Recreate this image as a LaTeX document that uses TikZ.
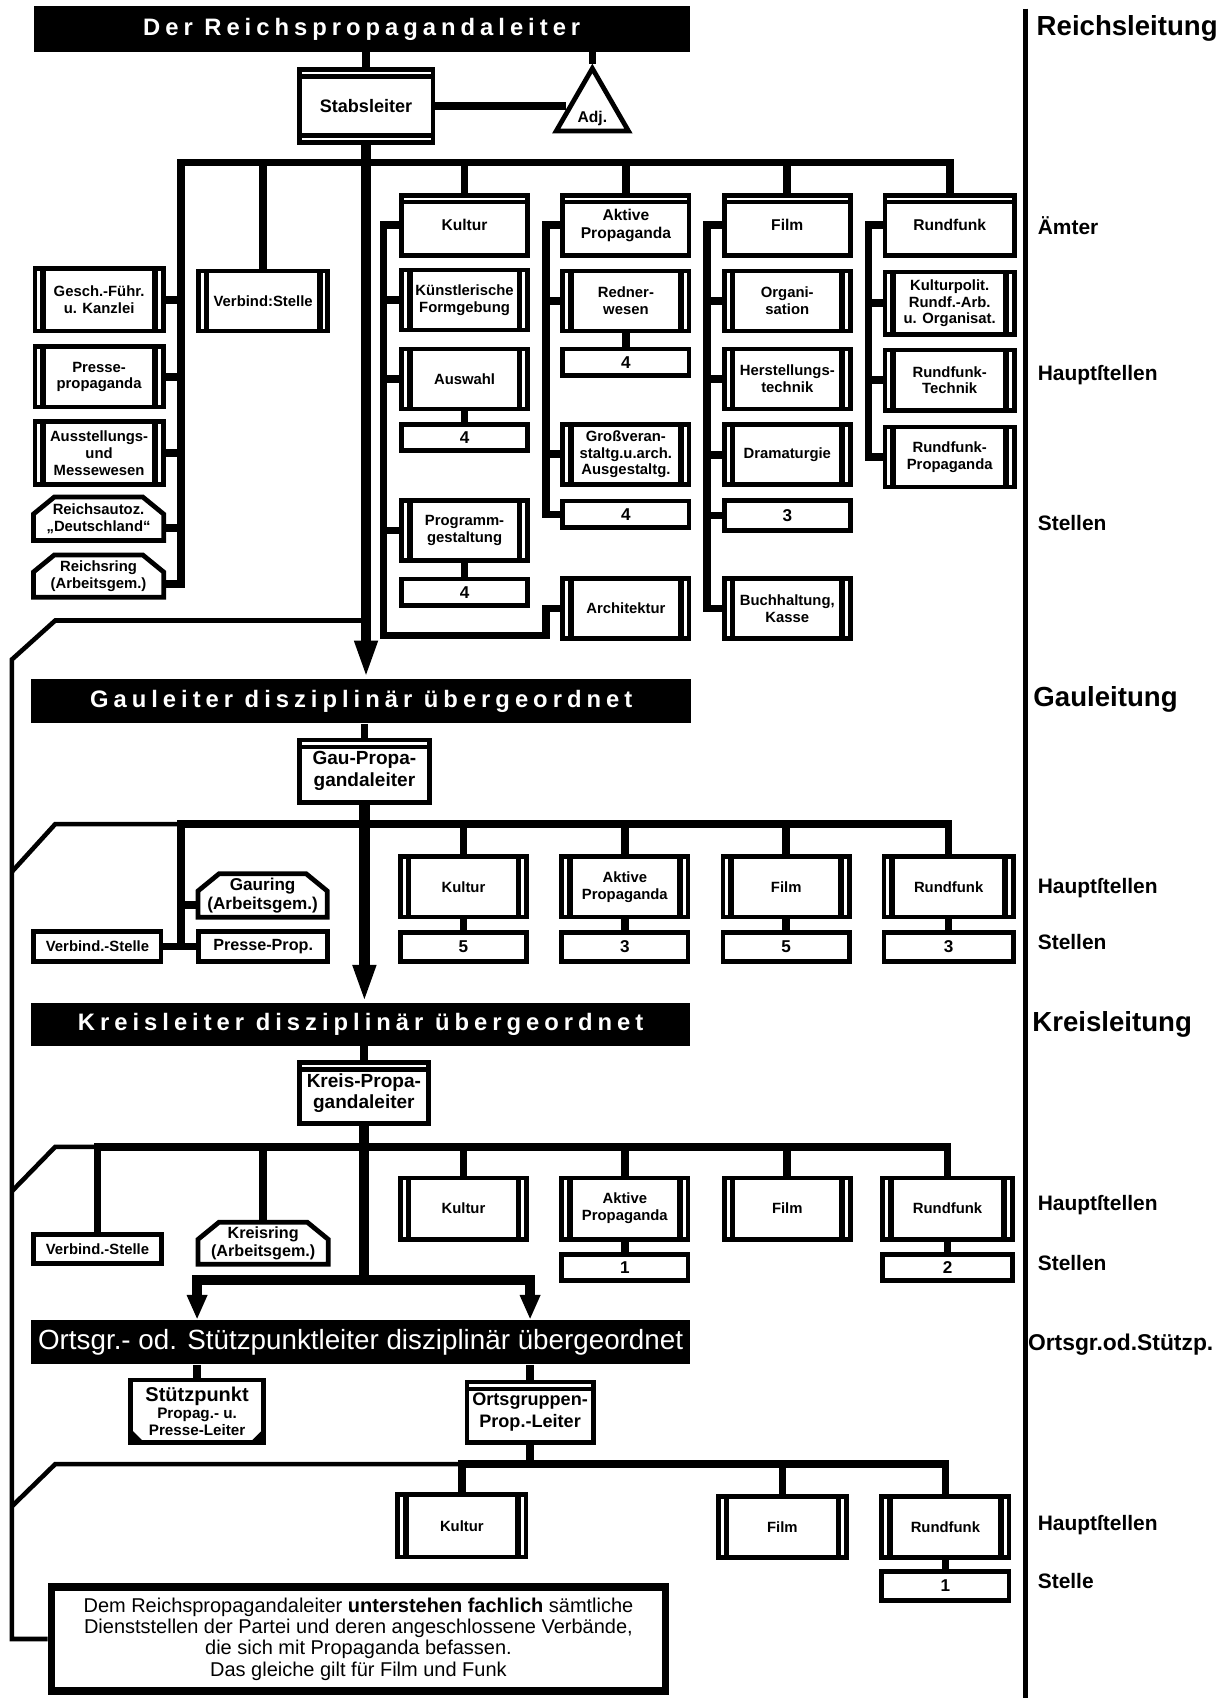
\documentclass[tikz,border=0pt]{standalone}
\usepackage{fontspec}
\setmainfont{Liberation Sans}
\newfontfamily\barface{Liberation Sans}[LetterSpace=21]
\usetikzlibrary{arrows.meta,shapes.geometric}

\newcommand\bxfont{\bfseries\fontsize{7.8}{8.8}\selectfont}
\newcommand\amtfont{\bfseries\fontsize{8.2}{9.2}\selectfont}
\newcommand\numfont{\bfseries\fontsize{9}{10}\selectfont}
\newcommand\ringfont{\bfseries\fontsize{9}{10}\selectfont}
\newcommand\leitfont{\bfseries\fontsize{10}{11.3}\selectfont}
\newcommand\barfont{\barface\bfseries\fontsize{12.5}{14}\selectfont}
\newcommand\bigfont{\bfseries\fontsize{14.5}{16}\selectfont}
\newcommand\smfont{\bfseries\fontsize{11}{13}\selectfont}

\tikzset{
  box/.style={draw,line width=2.5pt,inner sep=0pt,align=center,font=\bxfont,
    minimum width=23.3mm,minimum height=11.1mm},
  hst/.style={box,path picture={
      \draw[line width=3pt] ([xshift=4.3pt]path picture bounding box.north west)
        -- ([xshift=4.3pt]path picture bounding box.south west);
      \draw[line width=3pt] ([xshift=-4.3pt]path picture bounding box.north east)
        -- ([xshift=-4.3pt]path picture bounding box.south east);}},
  amt/.style={box,font=\amtfont,path picture={
      \draw[line width=2.3pt] ([yshift=-3.7pt]path picture bounding box.north west)
        -- ([yshift=-3.7pt]path picture bounding box.north east);}},
  leiter/.style={box,font=\leitfont,path picture={
      \draw[line width=2.3pt] ([yshift=-3.7pt]path picture bounding box.north west)
        -- ([yshift=-3.7pt]path picture bounding box.north east);
      \draw[line width=2.3pt] ([yshift=3.7pt]path picture bounding box.south west)
        -- ([yshift=3.7pt]path picture bounding box.south east);}},
  stp/.style={box,path picture={
      \fill ([yshift=7pt]path picture bounding box.south west) -- (path picture bounding box.south west)
        -- ([xshift=7pt]path picture bounding box.south west) -- cycle;
      \fill ([yshift=7pt]path picture bounding box.south east) -- (path picture bounding box.south east)
        -- ([xshift=-7pt]path picture bounding box.south east) -- cycle;}},
  num/.style={box,font=\numfont,minimum height=4.9mm},
  plain/.style={box,minimum height=5.5mm},
  ring/.style={inner sep=0pt,align=center,font=\ringfont,minimum width=23.7mm},
  ringline/.style={line width=2.5pt},
  adjtri/.style={draw,line width=2.5pt,regular polygon,regular polygon sides=3,
    minimum size=12.9mm,inner sep=0pt,text height=1.3em,text depth=0pt,font=\amtfont},
  bar/.style={fill=black,text=white,inner sep=0pt,font=\barfont,
    minimum width=121.8mm,minimum height=8.2mm},
  bus/.style={line width=4pt},
  mainline/.style={line width=5.5pt},
  thinline/.style={line width=2.4pt},
  lab/.style={anchor=west,inner sep=0pt,font=\smfont}
}

\begin{document}
\begin{tikzpicture}[x=0.2mm,y=-0.2mm]
  \useasboundingbox[fill=white] (0,0) rectangle (1128,1568);

  % Reichsleitung
  \node[bar,minimum width=121.2mm,minimum height=8.4mm] (rbar) at (334,27) {Der Reichspropagandaleiter};
  \node[leiter,minimum width=24.7mm,minimum height=13.5mm,font=\bfseries\fontsize{9.5}{11}\selectfont] (stab) at (338,98) {Stabsleiter};
  \node[adjtri] (adj) at (547,101.7) {Adj.};

  \node[hst,minimum width=23.7mm,minimum height=11.5mm] (gfk) at (91.5,277) {Gesch.-Führ.\\u. Kanzlei};
  \node[hst,minimum width=23.7mm] (pp) at (91.5,348) {Presse-\\propaganda};
  \node[hst,minimum width=23.7mm,minimum height=11.7mm] (aus) at (91.5,418.5) {Ausstellungs-\\und\\Messewesen};
  \node[ring,font=\bxfont,minimum width=23.9mm,minimum height=7.9mm] (rad) at (91,479) {Reichsautoz.\\„Deutschland“};
  \node[ring,font=\bxfont,minimum width=23.9mm,minimum height=7.7mm] (rr) at (91,532) {Reichsring\\(Arbeitsgem.)};
  \node[hst,minimum width=23.9mm] (vs) at (243,278) {Verbind:Stelle};

  \node[amt] (aku) at (429,208) {Kultur};
  \node[amt] (aap) at (578,208) {Aktive\\Propaganda};
  \node[amt] (afi) at (727,208) {Film};
  \node[amt,minimum width=23.9mm] (arfk) at (877,208) {Rundfunk};

  \node[hst] (kfg) at (429,277) {Künstlerische\\Formgebung};
  \node[hst] (kaus) at (429,350) {Auswahl};
  \node[num] (kn1) at (429,404) {4};
  \node[hst] (kprog) at (429,490) {Programm-\\gestaltung};
  \node[num] (kn2) at (429,547) {4};

  \node[hst] (ared) at (578,278) {Redner-\\wesen};
  \node[num] (an1) at (578,334.5) {4};
  \node[hst] (agv) at (578,419.5) {Großveran-\\staltg.u.arch.\\Ausgestaltg.};
  \node[num] (an2) at (578,475) {4};
  \node[hst] (arch) at (578,562) {Architektur};

  \node[hst] (forg) at (727,278) {Organi-\\sation};
  \node[hst] (fher) at (727,350) {Herstellungs-\\technik};
  \node[hst] (fdra) at (727,420) {Dramaturgie};
  \node[num,minimum height=5.5mm] (fn3) at (727,476) {3};
  \node[hst] (fbuch) at (727,562) {Buchhaltung,\\Kasse};

  \node[hst,minimum width=23.9mm,minimum height=11.5mm] (rkp) at (877,280) {Kulturpolit.\\Rundf.-Arb.\\u. Organisat.};
  \node[hst,minimum width=23.9mm] (rtech) at (877,351) {Rundfunk-\\Technik};
  \node[hst,minimum width=23.9mm] (rprop) at (877,422) {Rundfunk-\\Propaganda};

  \draw[bus] (stab.north |- rbar.south) -- (stab.north);
  \draw[bus] (adj.corner 1 |- rbar.south) -- (adj.corner 1);
  \draw[bus] (stab.east) -- (stab.east -| adj.west);
  \coordinate (rbl) at (167,150);
  \draw[bus] ([yshift=-4pt]rr.east) -| (rbl) -| (arfk.north);
  \foreach \n in {gfk,pp,aus} \draw[bus] (\n.east) -- (\n.east -| rbl);
  \draw[bus] ([yshift=-5pt]rad.east) -- ([yshift=-5pt]rad.east -| rbl);
  \draw[bus] (vs.north) -- (vs.north |- rbl);
  \foreach \n in {aku,aap,afi} \draw[bus] (\n.north) -- (\n.north |- rbl);

  \coordinate (kb) at (354,587);
  \coordinate (kc) at (504,587);
  \draw[bus] (aku.west) -| (kb) -- (kc) |- (arch.west);
  \foreach \n in {kfg,kaus,kprog} \draw[bus] (\n.west) -- (\n.west -| kb);
  \draw[bus] (kaus.south) -- (kn1.north);
  \draw[bus] (kprog.south) -- (kn2.north);

  \coordinate (ab) at (504,0);
  \draw[bus] (aap.west) -| (an2.west -| ab) -- (an2.west);
  \foreach \n in {ared,agv} \draw[bus] (\n.west) -- (\n.west -| ab);
  \draw[bus] (ared.south) -- (an1.north);

  \coordinate (fb) at (653,0);
  \draw[bus] (afi.west) -| (fbuch.west -| fb) -- (fbuch.west);
  \foreach \n in {forg,fher,fdra,fn3} \draw[bus] (\n.west) -- (\n.west -| fb);

  \coordinate (rb) at (802,0);
  \draw[bus] (arfk.west) -| (rprop.west -| rb) -- (rprop.west);
  \foreach \n in {rkp,rtech} \draw[bus] (\n.west) -- (\n.west -| rb);

  % Gauleitung
  \node[bar] (gbar) at (333.5,647.5) {Gauleiter disziplinär übergeordnet};
  \node[amt,minimum width=24.1mm,minimum height=11.5mm,font=\leitfont] (gpl) at (336.5,712) {Gau-Propa-\\gandaleiter};
  \node[plain,minimum width=23.5mm] (gvs) at (90,874) {Verbind.-Stelle};
  \node[plain,minimum width=23.9mm,font=\bfseries\fontsize{8.5}{9.5}\selectfont] (gpp) at (243,874) {Presse-Prop.};
  \node[ring,minimum height=7.9mm] (gring) at (242.5,827) {Gauring\\(Arbeitsgem.)};
  \node[hst] (gku) at (428,819) {Kultur};
  \node[hst] (gap) at (577,819) {Aktive\\Propaganda};
  \node[hst] (gfi) at (726,819) {Film};
  \node[hst,minimum width=23.9mm] (grf) at (876,819) {Rundfunk};
  \node[num,minimum height=5.3mm] (gn1) at (428,874.5) {5};
  \node[num,minimum height=5.3mm] (gn2) at (577,874.5) {3};
  \node[num,minimum height=5.3mm] (gn3) at (726,874.5) {5};
  \node[num,minimum height=5.3mm,minimum width=23.9mm] (gn4) at (876,874.5) {3};

  \draw[mainline,-{Triangle[length=20pt,width=11pt]}] (stab.south) -- (stab.south |- gbar.north);
  \draw[bus] (gpl.north |- gbar.south) -- (gpl.north);
  \coordinate (gbl) at (167,761);
  \draw[bus] (gvs.east) -| (gbl) -| (grf.north);
  \draw[bus] ([yshift=-5pt]gring.west) -- ([yshift=-5pt]gring.west -| gbl);
  \draw[bus] (gpp.west) -- (gpp.west -| gbl);
  \foreach \n in {gku,gap,gfi} \draw[bus] (\n.north) -- (\n.north |- gbl);
  \foreach \a/\b in {gku/gn1,gap/gn2,gfi/gn3,grf/gn4} \draw[bus] (\a.south) -- (\b.north);

  % Kreisleitung
  \node[bar,minimum height=7.8mm] (kbar) at (333,946) {Kreisleiter disziplinär übergeordnet};
  \node[amt,minimum width=23.9mm,minimum height=11.3mm,font=\leitfont] (kpl) at (336,1009.5) {Kreis-Propa-\\gandaleiter};
  \node[plain,minimum width=23.7mm,minimum height=5.3mm] (kvs) at (90,1153.5) {Verbind.-Stelle};
  \node[ring,minimum width=23.9mm,minimum height=7.6mm,font=\bfseries\fontsize{8.5}{9.2}\selectfont] (kring) at (243,1148) {Kreisring\\(Arbeitsgem.)};
  \node[hst,minimum height=11.3mm] (kku) at (428,1116) {Kultur};
  \node[hst,minimum height=11.3mm] (kap) at (577,1116) {Aktive\\Propaganda};
  \node[hst,minimum height=11.3mm] (kfi) at (727,1116) {Film};
  \node[hst,minimum height=11.3mm,minimum width=23.9mm] (krf) at (875,1116) {Rundfunk};
  \node[num] (kn1x) at (577,1170.5) {1};
  \node[num,minimum width=23.9mm] (kn2x) at (875,1170.5) {2};

  \draw[mainline,-{Triangle[length=20pt,width=11pt]}] (gpl.south) -- (gpl.south |- kbar.north);
  \draw[bus] (kpl.north |- kbar.south) -- (kpl.north);
  \coordinate (kbl) at (90,1059);
  \draw[bus] (kvs.north) -- (kvs.north |- kbl) -| (krf.north);
  \draw[bus] (kring.north) -- (kring.north |- kbl);
  \foreach \n in {kku,kap,kfi} \draw[bus] (\n.north) -- (\n.north |- kbl);
  \draw[bus] (kap.south) -- (kn1x.north);
  \draw[bus] (krf.south) -- (kn2x.north);

  % Ortsgruppe / Stuetzpunkt
  \node[bar,font=\fontsize{14.6}{16}\selectfont] (obar) at (333,1239.5) {Ortsgr.- od. Stützpunktleiter disziplinär übergeordnet};
  \node[stp,minimum width=24.5mm,minimum height=11.5mm,font=\bfseries\fontsize{8}{9}\selectfont] (osp) at (182,1303) {{\fontsize{10.5}{11}\selectfont Stützpunkt}\\Propag.- u.\\Presse-Leiter};
  \node[amt,font=\bfseries\fontsize{9.5}{11.3}\selectfont] (ogl) at (489.5,1304) {Ortsgruppen-\\Prop.-Leiter};
  \node[hst,minimum width=23.7mm,minimum height=11.5mm] (oku) at (426.5,1409) {Kultur};
  \node[hst,minimum width=23.7mm,minimum height=11.3mm] (ofi) at (722.5,1410) {Film};
  \node[hst,minimum width=23.5mm,minimum height=11.3mm] (orf) at (873,1410) {Rundfunk};
  \node[num,minimum width=23.5mm,minimum height=5.3mm] (on1) at (873,1464.5) {1};

  \coordinate (kfork) at (336,1182);
  \draw[mainline] (kpl.south) -- (kfork);
  \draw[mainline,-{Triangle[length=13pt,width=10pt]}] (kfork) -| (osp.north |- obar.north);
  \draw[mainline,-{Triangle[length=13pt,width=10pt]}] (kfork) -| (ogl.north |- obar.north);
  \draw[bus] (osp.north |- obar.south) -- (osp.north);
  \draw[bus] (ogl.north |- obar.south) -- (ogl.north);
  \coordinate (obl) at (430,1352);
  \draw[bus] (ogl.south) -- (ogl.south |- obl);
  \draw[bus] (oku.north) -- (oku.north |- obl) -| (orf.north);
  \draw[bus] (ofi.north) -- (ofi.north |- obl);
  \draw[bus] (orf.south) -- (on1.north);

  \node[draw,line width=4pt,inner sep=0pt,align=center,minimum width=113.4mm,minimum height=19.2mm,
    font=\fontsize{10.5}{11.2}\selectfont] (note) at (331,1513.5)
    {Dem Reichspropagandaleiter \textbf{unterstehen fachlich} sämtliche\\
     Dienststellen der Partei und deren angeschlossene Verbände,\\
     die sich mit Propaganda befassen.\\
     Das gleiche gilt für Film und Funk};

  % chamfered ring boxes
  \foreach \n in {rad,rr,gring,kring}
    \draw[ringline] ([yshift=-9pt]\n.north west) -- ([xshift=11pt]\n.north west)
      -- ([xshift=-11pt]\n.north east) -- ([yshift=-9pt]\n.north east)
      -- (\n.south east) -- (\n.south west) -- cycle;

  % thin return line
  \coordinate (t0) at (51,573);
  \coordinate (t1) at (11,609);
  \draw[thinline] (stab.south |- t0) -- (t0) -- (t1) |- (note.west);
  \coordinate (g0) at (51,761);
  \coordinate (g1) at (11,805);
  \draw[thinline] (gbl) -- (g0) -- (g1);
  \coordinate (k0) at (51,1059);
  \coordinate (k1) at (11,1100);
  \draw[thinline] (kvs.north |- kbl) -- (k0) -- (k1);
  \coordinate (o0) at (51,1352);
  \coordinate (o1) at (11,1391);
  \draw[thinline] (oku.north |- obl) -- (o0) -- (o1);

  % level column
  \draw[line width=2.6pt] (947,8) -- (947,1568);
  \node[lab,font=\bigfont] (lreich) at (957,26) {Reichsleitung};
  \node[lab] (lamt) at (958,208) {Ämter};
  \node[lab] (lhs1) at (958,346) {Hauptſtellen};
  \node[lab] (lst1) at (958,483) {Stellen};
  \node[lab,font=\bigfont] (lgau) at (954,646) {Gauleitung};
  \node[lab] (lhs2) at (958,820) {Hauptſtellen};
  \node[lab] (lst2) at (958,870) {Stellen};
  \node[lab,font=\bigfont] (lkreis) at (953,946) {Kreisleitung};
  \node[lab] (lhs3) at (958,1113) {Hauptſtellen};
  \node[lab] (lst3) at (958,1166) {Stellen};
  \node[lab,font=\bfseries\fontsize{12}{14}\selectfont] (lort) at (949,1242) {Ortsgr.od.Stützp.};
  \node[lab] (lhs4) at (958,1408) {Hauptſtellen};
  \node[lab] (lst4) at (958,1460) {Stelle};
\end{tikzpicture}
\end{document}
